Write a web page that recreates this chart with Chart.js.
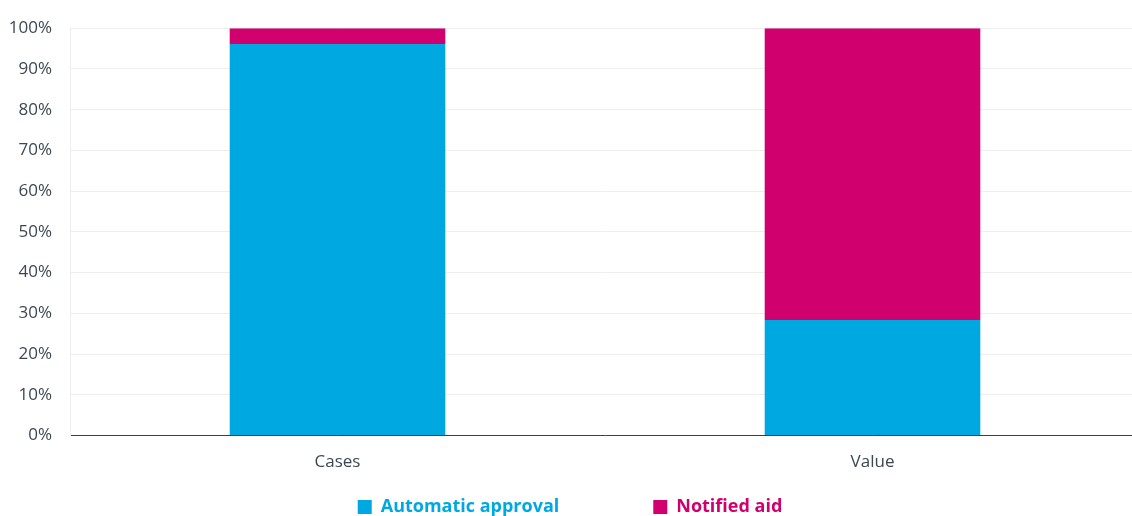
<!DOCTYPE html>
<html lang="en">
<head>
    <meta charset="utf-8">
    <title>Automatic approval vs notified aid</title>
    <script src="https://cdn.jsdelivr.net/npm/chart.js"></script>
    <style>
        html, body { margin: 0; padding: 0; overflow: hidden; background: #fff; }
        #wrap { width: 1140px; height: 516px; }
    </style>
</head>
<body>
    <div id="wrap"><canvas id="aidChart"></canvas></div>
    <script>
        const categories = ['Cases', 'Value'];
        const automaticApproval = [96.1, 28.4];
        const notifiedAid = [3.9, 71.6];
        const seriesNames = ['Automatic approval', 'Notified aid'];
        const seriesColors = ['#00a8e1', '#d0006f'];

        Chart.defaults.font.family = "'Open Sans', sans-serif";

        const ctx = document.getElementById('aidChart').getContext('2d');
        new Chart(ctx, {
            type: 'bar',
            data: {
                labels: categories,
                datasets: [
                    { label: seriesNames[0], data: automaticApproval, backgroundColor: seriesColors[0] },
                    { label: seriesNames[1], data: notifiedAid, backgroundColor: seriesColors[1] }
                ]
            },
            options: {
                responsive: true,
                maintainAspectRatio: false,
                animation: false,
                layout: { padding: { top: 14, left: 0, right: 0, bottom: -10 } },
                datasets: { bar: { categoryPercentage: 1, barPercentage: 0.403 } },
                plugins: {
                    tooltip: { enabled: false },
                    legend: {
                        position: 'bottom',
                        labels: {
                            boxWidth: 14,
                            boxHeight: 14,
                            padding: 10,
                            font: { size: 18, weight: 'bold' },
                            // trailing spaces widen the gap between the two items
                            generateLabels: chart => chart.data.datasets.map((ds, i) => ({
                                text: i === 0 ? ds.label + '\u2003\u2003\u2003\u2003\u2002\u2009' : ds.label,
                                fillStyle: ds.backgroundColor,
                                strokeStyle: ds.backgroundColor,
                                lineWidth: 0,
                                fontColor: ds.backgroundColor,
                                datasetIndex: i,
                                hidden: false
                            }))
                        }
                    }
                },
                scales: {
                    x: {
                        stacked: true,
                        grid: { display: false, drawTicks: false },
                        border: { color: '#3a3f45', width: 1 },
                        ticks: { color: '#3d4752', font: { size: 17 }, padding: 16 }
                    },
                    y: {
                        stacked: true,
                        min: 0,
                        max: 100,
                        grid: { color: '#eeeeee', drawTicks: false },
                        border: { color: '#eeeeee' },
                        afterFit: scale => { scale.width = 70; },
                        ticks: {
                            stepSize: 10,
                            color: '#3d4752',
                            font: { size: 17 },
                            padding: 18,
                            callback: v => v + '%'
                        }
                    }
                }
            }
        });
    </script>
</body>
</html>
